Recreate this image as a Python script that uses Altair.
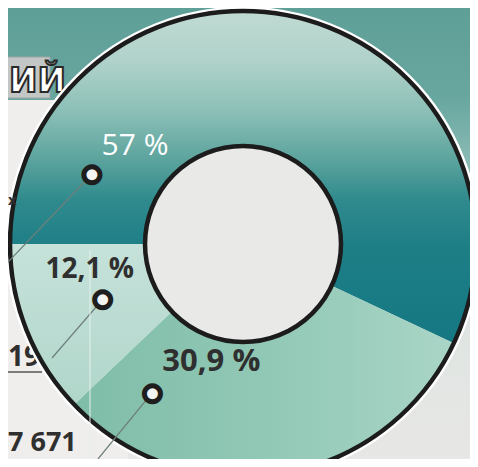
import math
import altair as alt
import pandas as pd

# ---- data ----
segments = ["a", "b", "c"]
shares = [57.0, 30.9, 12.1]
labels = ["57 %", "30,9 %", "12,1 %"]
order = [1, 2, 3]
side_numbers = ["х", "19", "7 671"]
heading = "ИЙ"

df = pd.DataFrame({"seg": segments, "share": shares, "label": labels, "order": order})

W, H = 462, 451
CX, CY = 235, 236
R_OUT, R_IN = 233, 98
START = 1.5 * math.pi
TAU = 2 * math.pi

theta_scale = alt.Scale(domain=[0, 100], range=[START, START + TAU])
one = alt.Data(values=[{"k": 1}])

base = alt.Chart(df).transform_window(
    cum="sum(share)", sort=[alt.SortField("order")], frame=[None, 0]
).transform_calculate(
    start="datum.cum - datum.share",
    mid="datum.cum - datum.share / 2",
)


def grad(stops, x2=0, y2=1):
    return alt.Gradient(
        gradient="linear", x1=0, y1=0, x2=x2, y2=y2,
        stops=[alt.GradientStop(offset=o, color=c) for o, c in stops],
    )


# background
bg = alt.Chart(one).mark_rect(
    fill=grad([(0, "#5e9f98"), (0.2, "#68a7a0"), (0.42, "#9cc5be"),
               (0.62, "#dde4e1"), (1, "#e7e7e5")])
).encode(x=alt.value(0), x2=alt.value(W), y=alt.value(0), y2=alt.value(H))

left_panel = alt.Chart(one).mark_rect(fill="#efeeec").encode(
    x=alt.value(0), x2=alt.value(120), y=alt.value(92), y2=alt.value(H)
)

head_box = alt.Chart(one).mark_rect(fill="#c2c6c5", stroke="#9ea4a3", strokeWidth=1).encode(
    x=alt.value(-2), x2=alt.value(42), y=alt.value(49), y2=alt.value(90)
)
head_text = alt.Chart(one).mark_text(
    text=heading, font="DejaVu Sans", fontWeight="bold", fontSize=34,
    color="white", stroke="#2a2a2a", strokeWidth=2, align="left",
    baseline="alphabetic"
).encode(x=alt.value(1), y=alt.value(84))

# white halo + dark outline rings
halo = alt.Chart(one).mark_arc(
    radius=R_OUT + 2, radius2=R_IN - 2, theta=0, theta2=TAU,
    filled=False, color="white", strokeWidth=5
).encode(x=alt.value(CX), y=alt.value(CY))
hole = alt.Chart(one).mark_arc(
    radius=R_IN, radius2=0, theta=0, theta2=TAU, fill="#e9e9e7"
).encode(x=alt.value(CX), y=alt.value(CY))

seg_fills = {
    "a": grad([(0, "#c0dad3"), (0.15, "#b0d2ca"), (0.3, "#8cc0b7"), (0.45, "#5ba39d"),
               (0.57, "#2f8a8d"), (0.72, "#1d7e86"), (1, "#157882")]),
    "b": grad([(0, "#7fbda8"), (0.5, "#91c8b5"), (1, "#a9d5c7")], x2=1, y2=0),
    "c": grad([(0, "#c6e2da"), (1, "#b0d6ca")]),
}

arcs = []
for s in segments:
    arcs.append(
        base.transform_filter(alt.datum.seg == s).mark_arc(
            radius=R_OUT, radius2=R_IN, fill=seg_fills[s]
        ).encode(
            theta=alt.Theta("start:Q", scale=theta_scale),
            theta2="cum:Q",
            x=alt.value(CX), y=alt.value(CY),
        )
    )

ring = alt.Chart(one).mark_arc(
    radius=R_OUT, radius2=R_IN, theta=0, theta2=TAU,
    filled=False, color="#1c1c1c", strokeWidth=4.5
).encode(x=alt.value(CX), y=alt.value(CY))


def rule(x1, y1, x2, y2, color="#6f7f7c", w=1.2):
    return alt.Chart(one).mark_rule(color=color, strokeWidth=w).encode(
        x=alt.value(x1), y=alt.value(y1), x2=alt.value(x2), y2=alt.value(y2)
    )


leaders = [
    rule(84, 166, 0, 254),
    rule(95, 291, 44, 350),
    rule(144, 385, 90, 451),
    rule(82, 242, 82, H, color="#e6f0ec", w=1),
    rule(0, 364, 34, 364, color="#555555", w=1.5),
]

label_off = {"a": (-144, 63), "b": (-58, -45), "c": (0, -35)}
marker_off = {"a": (-187, 91), "b": (-117, -14), "c": (13, -6)}
label_style = {
    "a": dict(color="white", fontWeight="normal", fontSize=30),
    "b": dict(color="#2f2f2f", fontWeight="bold", fontSize=31),
    "c": dict(color="#2f2f2f", fontWeight="bold", fontSize=28),
}

texts = []
for s in segments:
    dx, dy = label_off[s]
    texts.append(
        base.transform_filter(alt.datum.seg == s).mark_text(
            radius=165, dx=dx, dy=dy, font="Open Sans", align="center",
            baseline="middle", **label_style[s]
        ).encode(
            theta=alt.Theta("mid:Q", scale=theta_scale),
            text="label:N",
            x=alt.value(CX), y=alt.value(CY),
        )
    )
    mx, my = marker_off[s]
    texts.append(
        base.transform_filter(alt.datum.seg == s).mark_text(
            text="●", radius=165, dx=mx, dy=my, font="DejaVu Sans", fontSize=21,
            color="#f4f4f2", stroke="#1e1e1e", strokeWidth=5,
            align="center", baseline="middle"
        ).encode(
            theta=alt.Theta("mid:Q", scale=theta_scale),
            x=alt.value(CX), y=alt.value(CY),
        )
    )

side_df = pd.DataFrame({"t": side_numbers, "i": [0, 1, 2]})
side0 = alt.Chart(side_df).transform_filter(alt.datum.i == 0).mark_text(
    font="Open Sans", fontWeight="bold", fontSize=15, color="#2f2f2f",
    align="left", baseline="alphabetic"
).encode(text="t:N", x=alt.value(0), y=alt.value(197))
side1 = alt.Chart(side_df).transform_filter(alt.datum.i == 1).mark_text(
    font="Open Sans", fontWeight="bold", fontSize=28, color="#2f2f2f",
    align="left", baseline="alphabetic"
).encode(text="t:N", x=alt.value(0), y=alt.value(358))
side2 = alt.Chart(side_df).transform_filter(alt.datum.i == 2).mark_text(
    font="Open Sans", fontWeight="bold", fontSize=27, color="#2f2f2f",
    align="left", baseline="alphabetic"
).encode(text="t:N", x=alt.value(0), y=alt.value(443))

chart = alt.layer(
    bg, left_panel, head_box, head_text, side1, side2, halo, *arcs, hole, ring,
    *leaders, side0, *texts
).properties(
    width=W, height=H, autosize=alt.AutoSizeParams(type="none"), padding=0,
    background="white"
).configure_view(stroke=None)

chart.save("out.html", embed_options={"renderer": "svg", "actions": False})
